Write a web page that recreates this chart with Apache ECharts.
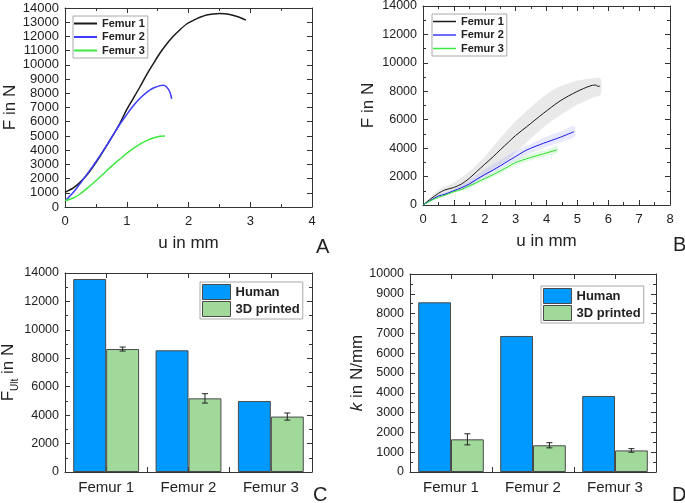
<!DOCTYPE html>
<html><head><meta charset="utf-8">
<script src="https://cdn.jsdelivr.net/npm/echarts@6/dist/echarts.min.js"></script>
<style>html,body{margin:0;padding:0;background:#fff}#c{width:685px;height:503px}</style>
</head><body><div id="c"></div>
<script>
// ---------- Panel A : human femurs, force vs displacement ----------
const aU1 = [0, 0.135, 0.243, 0.351, 0.459, 0.567, 0.675, 0.783, 0.891, 0.999, 1.107, 1.215, 1.323, 1.431, 1.539, 1.647, 1.754, 1.862, 1.970, 2.078, 2.186, 2.294, 2.402, 2.51, 2.65, 2.8, 2.93];
const aF1 = [1030, 1340, 1735, 2230, 2860, 3565, 4315, 5090, 5910, 6850, 7650, 8460, 9310, 10085, 10835, 11470, 12010, 12475, 12875, 13130, 13345, 13510, 13580, 13610, 13560, 13380, 13150];
const aU2 = [0.01, 0.135, 0.243, 0.351, 0.459, 0.567, 0.675, 0.783, 0.891, 0.999, 1.107, 1.215, 1.323, 1.431, 1.539, 1.592, 1.646, 1.70, 1.727];
const aF2 = [450, 1030, 1640, 2275, 2930, 3610, 4340, 5090, 5840, 6500, 7130, 7645, 8070, 8370, 8540, 8560, 8440, 8070, 7600];
const aU3 = [0, 0.135, 0.243, 0.351, 0.459, 0.567, 0.675, 0.783, 0.891, 0.999, 1.107, 1.215, 1.323, 1.431, 1.539, 1.62];
const aF3 = [445, 630, 915, 1290, 1690, 2110, 2555, 2980, 3380, 3775, 4130, 4430, 4665, 4855, 4970, 4990];

// ---------- Panel B : 3D printed femurs (mean curves + spread) ----------
const bU1 = [0, 0.23, 0.5, 0.71, 0.98, 1.25, 1.5, 1.74, 2.0, 2.28, 2.5, 2.76, 3.0, 3.36, 3.9, 4.44, 4.98, 5.41, 5.57, 5.62, 5.65, 5.73];
const bF1 = [0, 400, 820, 1060, 1220, 1480, 1880, 2350, 2870, 3410, 3880, 4400, 4890, 5510, 6450, 7320, 7975, 8375, 8440, 8440, 8340, 8370];
const bU2 = [0, 0.23, 0.5, 0.71, 0.98, 1.25, 1.5, 1.74, 2.0, 2.28, 2.5, 2.76, 3.0, 3.36, 3.9, 4.44, 4.89];
const bF2 = [0, 300, 635, 750, 990, 1220, 1480, 1810, 2140, 2470, 2750, 3100, 3410, 3870, 4340, 4760, 5160];
const bU3 = [0, 0.23, 0.5, 0.71, 0.98, 1.25, 1.5, 1.74, 2.0, 2.28, 2.5, 2.76, 3.0, 3.47, 3.9, 4.33, 4.35];
const bF3 = [0, 280, 540, 680, 920, 1100, 1340, 1580, 1860, 2140, 2400, 2700, 2990, 3330, 3600, 3870, 3880];
// spread bands
const bandU1 = [0, 0.5, 1.0, 1.5, 2.0, 2.5, 3.0, 3.5, 4.0, 4.5, 5.0, 5.5, 5.75];
const bandHi1 = [0, 1060, 1580, 2350, 3410, 4700, 5900, 6900, 7800, 8400, 8750, 8900, 8900];
const bandLo1 = [0, 620, 950, 1350, 2050, 2800, 3700, 4700, 5650, 6400, 7050, 7550, 7750];
const bandU2 = [0, 0.5, 1.0, 1.5, 2.0, 2.5, 3.0, 3.5, 4.0, 4.5, 4.9];
const bandHi2 = [0, 700, 1100, 1750, 2500, 3150, 3800, 4300, 4800, 5200, 5550];
const bandLo2 = [0, 580, 900, 1300, 1900, 2550, 3100, 3650, 4100, 4450, 4800];
const bandU3 = [0, 0.5, 1.0, 1.5, 2.0, 2.5, 3.0, 3.5, 4.0, 4.35];
const bandHi3 = [0, 620, 1020, 1480, 2000, 2580, 3180, 3600, 3900, 4100];
const bandLo3 = [0, 480, 840, 1200, 1700, 2220, 2780, 3150, 3450, 3650];

// ---------- Panels C / D : bars ----------
const categories = ['Femur 1', 'Femur 2', 'Femur 3'];
const cHuman = [13580, 8560, 4990];
const cPrinted = [8650, 5180, 3900];
const cPrintedErr = [140, 330, 250];
const dHuman = [8570, 6870, 3840];
const dPrinted = [1650, 1350, 1090];
const dPrintedErr = [280, 130, 90];

const lineNames = ['Femur 1', 'Femur 2', 'Femur 3'];
const barNames = ['Human', '3D printed'];
const panelLetters = ['A', 'B', 'C', 'D'];

const FONT = '"Liberation Sans", Arial, Helvetica, sans-serif';
const AX = '#333';
const zip = (u, f) => u.map((x, i) => [x, f[i]]);

function vAxis(grid, position, min, max, interval, showLabel, minorSplit, extra) {
  return Object.assign({
    type: 'value', gridIndex: grid, position, min, max, interval,
    axisLine: {show: true, onZero: false, lineStyle: {color: AX, width: 1}},
    axisTick: {show: true, inside: true, length: 5, lineStyle: {color: AX}},
    minorTick: {show: !!minorSplit, splitNumber: minorSplit || 2, length: 3, lineStyle: {color: AX}},
    splitLine: {show: false}, minorSplitLine: {show: false},
    axisLabel: {show: showLabel, color: '#222', fontSize: 13, fontFamily: FONT, margin: 6, formatter: v => String(v)}
  }, extra || {});
}
const yName = (name, gap) => ({name, nameLocation: 'middle', nameGap: gap,
  nameTextStyle: {fontSize: 17, color: '#222', fontFamily: FONT}});
const xName = (name, gap) => ({name, nameLocation: 'middle', nameGap: gap,
  nameTextStyle: {fontSize: 17, color: '#222', fontFamily: FONT}});

const grids = [
  {left: 65, top: 8, width: 247, height: 199},
  {left: 423, top: 6, width: 247, height: 199},
  {left: 65, top: 273, width: 247, height: 199},
  {left: 410, top: 274, width: 246, height: 198}
].map(g => Object.assign({outerBoundsMode: 'none', containLabel: false}, g));

const catAxis = (grid) => ({
  type: 'category', gridIndex: grid, position: 'bottom', data: categories,
  axisLine: {show: true, onZero: false, lineStyle: {color: AX}},
  axisTick: {show: false},
  axisLabel: {color: '#222', fontSize: 15, fontFamily: FONT, margin: 8},
  splitLine: {show: false}
});

const xAxes = [
  vAxis(0, 'bottom', 0, 4, 1, true, 2, xName('u in mm', 28)),
  vAxis(0, 'top', 0, 4, 1, false, 2),
  vAxis(1, 'bottom', 0, 8, 1, true, 2, xName('u in mm', 28)),
  vAxis(1, 'top', 0, 8, 1, false, 2),
  catAxis(2),
  vAxis(2, 'top', 0, 3, 0.5, false, 0),
  vAxis(2, 'bottom', 0, 3, 0.5, false, 0, {axisLine: {show: false}}),
  catAxis(3),
  vAxis(3, 'top', 0, 3, 0.5, false, 0),
  vAxis(3, 'bottom', 0, 3, 0.5, false, 0, {axisLine: {show: false}})
];
xAxes[0].axisLabel.margin = 8;
xAxes[2].axisLabel.margin = 8;
const yAxes = [
  vAxis(0, 'left', 0, 14000, 1000, true, 0, yName('F in N', 44)),
  vAxis(0, 'right', 0, 14000, 1000, false, 0),
  vAxis(1, 'left', 0, 14000, 2000, true, 2, yName('F in N', 46)),
  vAxis(1, 'right', 0, 14000, 2000, false, 2),
  vAxis(2, 'left', 0, 14000, 2000, true, 2, {
    name: '{a|F}{b|Ult}{a| in N}', nameLocation: 'middle', nameGap: 46,
    nameTextStyle: {color: '#222', fontFamily: FONT, rich: {
      a: {fontSize: 17, color: '#222', fontFamily: FONT, lineHeight: 22, verticalAlign: 'bottom'},
      b: {fontSize: 10, color: '#222', fontFamily: FONT, lineHeight: 22, verticalAlign: 'bottom', padding: [0, 0, -4, 0]}
    }}
  }),
  vAxis(2, 'right', 0, 14000, 2000, false, 2),
  vAxis(3, 'left', 0, 10000, 1000, true, 2, {
    name: '{i|k}{a| in N/mm}', nameLocation: 'middle', nameGap: 43,
    nameTextStyle: {color: '#222', fontFamily: FONT, rich: {
      a: {fontSize: 17, color: '#222', fontFamily: FONT},
      i: {fontSize: 17, color: '#222', fontFamily: FONT, fontStyle: 'italic'}
    }}
  }),
  vAxis(3, 'right', 0, 10000, 1000, false, 2)
];
yAxes[6].axisLabel.fontSize = 12.5;
yAxes[4].axisLabel.fontSize = 12.5;
yAxes[2].axisLabel.fontSize = 12.5;

const lineColorsA = ['#1a1a1a', '#3d3dff', '#3ee83e'];
const lineColorsB = ['#1a1a1a', '#1a1aee', '#2ee02e'];
const bandColors = ['rgba(190,190,190,0.34)', 'rgba(150,150,255,0.22)', 'rgba(140,235,140,0.26)'];

const series = [];
// Panel A lines
[[aU1, aF1], [aU2, aF2], [aU3, aF3]].forEach((p, k) => {
  series.push({type: 'line', name: lineNames[k], xAxisIndex: 0, yAxisIndex: 0, data: zip(p[0], p[1]),
    showSymbol: false, smooth: 0.3, z: 5,
    lineStyle: {color: lineColorsA[k], width: 1.5}, itemStyle: {color: lineColorsA[k]}});
});
// Panel B bands
[[bandU1, bandHi1, bandLo1], [bandU2, bandHi2, bandLo2], [bandU3, bandHi3, bandLo3]].forEach((b, k) => {
  series.push({type: 'custom', name: 'band' + k, xAxisIndex: 2, yAxisIndex: 2, data: [[0, 0]], silent: true, z: 1,
    renderItem: (params, api) => {
      const up = b[0].map((u, i) => api.coord([u, b[1][i]]));
      const lo = b[0].map((u, i) => api.coord([u, b[2][i]])).reverse();
      return {type: 'polygon', shape: {points: up.concat(lo), smooth: 0.3}, style: {fill: bandColors[k]}};
    }});
});
// Panel B lines
[[bU1, bF1], [bU2, bF2], [bU3, bF3]].forEach((p, k) => {
  series.push({type: 'line', name: lineNames[k], xAxisIndex: 2, yAxisIndex: 2, data: zip(p[0], p[1]),
    showSymbol: false, smooth: 0.3, z: 5,
    lineStyle: {color: lineColorsB[k], width: 1}, itemStyle: {color: lineColorsB[k]}});
});
// Bars
const barStyle = (c) => ({color: c, borderColor: '#4a4a4a', borderWidth: 1});
function addBars(xi, yi, human, printed, err) {
  series.push({type: 'bar', name: barNames[0], xAxisIndex: xi, yAxisIndex: yi, data: human,
    barWidth: '40%', barGap: '0%', itemStyle: barStyle('#0099ff')});
  series.push({type: 'bar', name: barNames[1], xAxisIndex: xi, yAxisIndex: yi, data: printed,
    barWidth: '40%', barGap: '0%', itemStyle: barStyle('#a1d99b')});
  series.push({type: 'custom', name: 'err', xAxisIndex: xi, yAxisIndex: yi, z: 10, silent: true,
    data: printed.map((v, i) => [i, v, err[i]]), encode: {x: 0, y: 1},
    renderItem: (params, api) => {
      const i = api.value(0), v = api.value(1), e = api.value(2);
      const bw = api.size([1, 0])[0];
      const x = api.coord([i, v])[0] + bw * 0.2;
      const t = api.coord([i, v + e])[1], b = api.coord([i, v - e])[1];
      const st = {stroke: '#222', lineWidth: 1};
      return {type: 'group', children: [
        {type: 'line', shape: {x1: x, y1: t, x2: x, y2: b}, style: st},
        {type: 'line', shape: {x1: x - 3, y1: t, x2: x + 3, y2: t}, style: st},
        {type: 'line', shape: {x1: x - 3, y1: b, x2: x + 3, y2: b}, style: st}
      ]};
    }});
}
addBars(4, 4, cHuman, cPrinted, cPrintedErr);
addBars(7, 6, dHuman, dPrinted, dPrintedErr);

const lineLegend = (left, top, h) => ({
  orient: 'vertical', left, top, data: lineNames, icon: 'rect', itemWidth: 23, itemHeight: h, itemGap: 0.5,
  padding: [1, 3, 1, 1], borderColor: '#aaa', borderWidth: 1, backgroundColor: '#fff', selectedMode: false,
  textStyle: {fontSize: 11, fontWeight: 'bold', color: '#222', fontFamily: FONT, lineHeight: 13}
});
const barLegend = (left, top) => ({
  orient: 'vertical', left, top, data: barNames, icon: 'rect', itemWidth: 28, itemHeight: 15, itemGap: 1,
  padding: [2, 3, 2, 2], borderColor: '#aaa', borderWidth: 1, backgroundColor: '#fff', selectedMode: false,
  itemStyle: {borderColor: '#4a4a4a', borderWidth: 1},
  textStyle: {fontSize: 13, fontWeight: 'bold', color: '#222', fontFamily: FONT}
});

const letterPos = [[316, 237], [673, 235], [313, 485], [672, 485]];
const graphic = panelLetters.map((t, i) => ({type: 'text', x: letterPos[i][0], y: letterPos[i][1],
  style: {text: t, fontSize: 20, fill: '#222', fontFamily: FONT}}));

const chart = echarts.init(document.getElementById('c'), null, {renderer: 'canvas'});
chart.setOption({
  animation: false,
  backgroundColor: '#fff',
  grid: grids,
  xAxis: xAxes,
  yAxis: yAxes,
  legend: [lineLegend(73, 16, 2), lineLegend(432, 14, 1.5), barLegend(200, 282), barLegend(541, 286)],
  series,
  graphic
});
</script></body></html>
